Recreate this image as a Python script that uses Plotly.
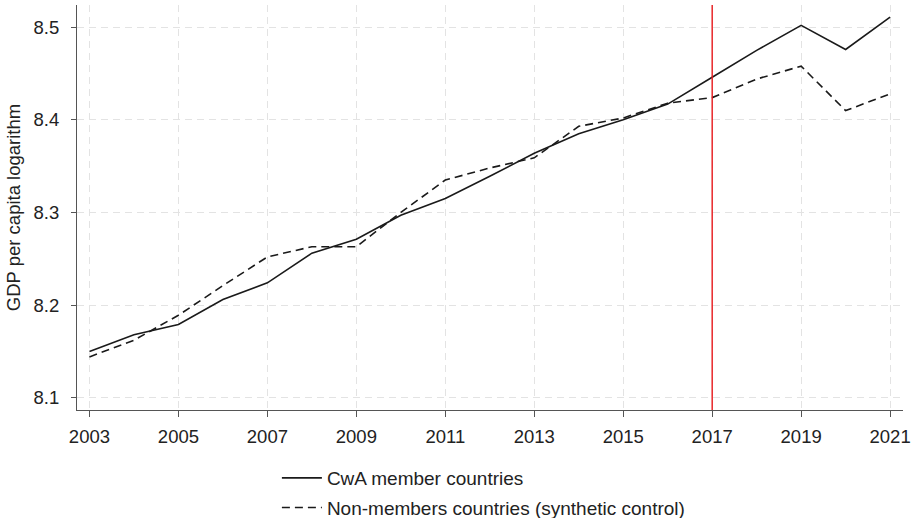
import plotly.graph_objects as go

years = list(range(2003, 2022))
cwa_members = [8.150, 8.168, 8.179, 8.206, 8.224, 8.256, 8.271, 8.297, 8.315, 8.339,
               8.364, 8.385, 8.400, 8.417, 8.446, 8.475, 8.502, 8.476, 8.511]
synthetic = [8.144, 8.162, 8.189, 8.221, 8.252, 8.263, 8.263, 8.300, 8.335, 8.348,
             8.359, 8.393, 8.402, 8.418, 8.424, 8.444, 8.458, 8.410, 8.428]
x_ticks = list(range(2003, 2022, 2))
y_ticks = [8.1, 8.2, 8.3, 8.4, 8.5]
treatment_year = 2017

font_family = "Liberation Sans, Arial, sans-serif"
tick_size = 18.5

fig = go.Figure()
fig.add_trace(go.Scatter(x=years, y=cwa_members, mode="lines",
                         name="CwA member countries", legendgroup="a",
                         line=dict(color="#1a1a1a", width=1.6)))
fig.add_trace(go.Scatter(x=years, y=synthetic, mode="lines",
                         name="Non-members countries (synthetic control)", legendgroup="b",
                         line=dict(color="#1a1a1a", width=1.6, dash="8px,5px")))

fig.add_shape(type="line", x0=treatment_year, x1=treatment_year, xref="x",
              y0=0, y1=1, yref="paper", line=dict(color="#e8191c", width=1.4))

grid_style = dict(showgrid=True, gridcolor="#e3e3e3", gridwidth=1.2, griddash="7px,5px")

fig.update_xaxes(range=[2002.72, 2021.29], tickmode="array", tickvals=x_ticks,
                 ticktext=[str(t) for t in x_ticks],
                 showline=True, linecolor="#555555", linewidth=1.2,
                 ticks="outside", ticklen=6, tickcolor="#555555",
                 ticklabelstandoff=4, automargin=False,
                 tickfont=dict(size=tick_size, color="#222222", family=font_family),
                 zeroline=False, **grid_style)
fig.update_yaxes(range=[8.0867, 8.524], tickmode="array", tickvals=y_ticks,
                 ticktext=[f"{t:.1f}" for t in y_ticks],
                 showline=True, linecolor="#555555", linewidth=1.2,
                 ticks="outside", ticklen=5, tickcolor="#555555",
                 ticklabelstandoff=8, automargin=False,
                 tickfont=dict(size=tick_size, color="#222222", family=font_family),
                 title=dict(text="GDP per capita logarithm",
                            font=dict(size=tick_size, color="#222222", family=font_family),
                            standoff=8),
                 zeroline=False, **grid_style)

fig.update_layout(
    width=911, height=518,
    margin=dict(l=77, r=8, t=5, b=108, autoexpand=False),
    plot_bgcolor="white", paper_bgcolor="white",
    font=dict(family=font_family, color="#222222"),
    showlegend=True,
    legend=dict(x=0.242, xanchor="left", y=-0.121, yanchor="top",
                orientation="v", font=dict(size=19, color="#222222", family=font_family),
                bgcolor="rgba(0,0,0,0)", tracegroupgap=2, itemwidth=40),
)

fig.write_html("out.html")
